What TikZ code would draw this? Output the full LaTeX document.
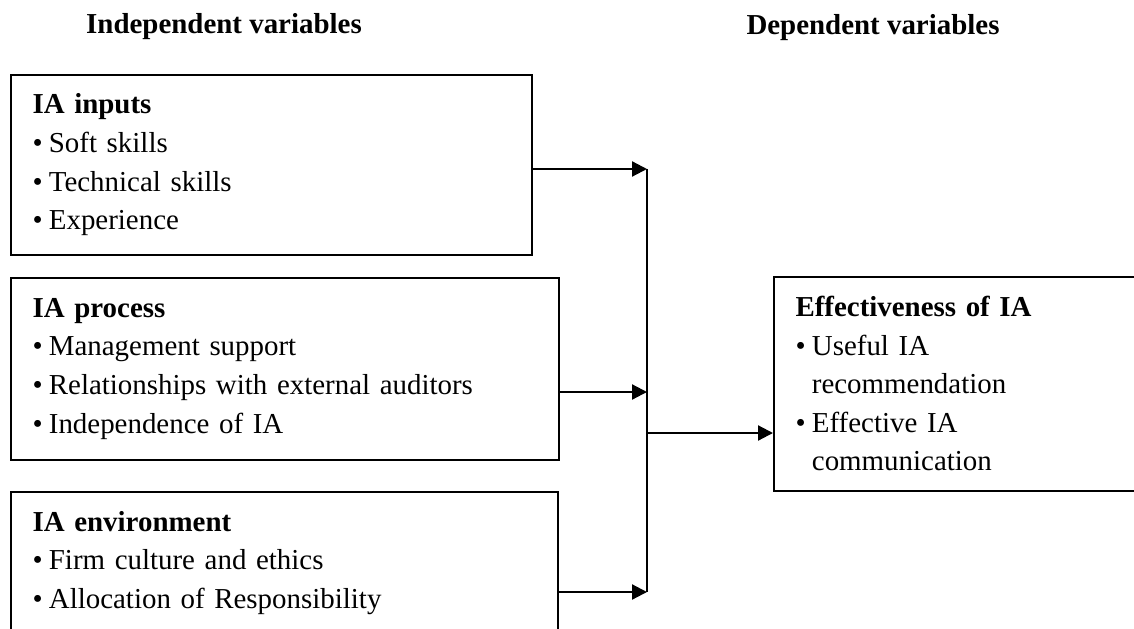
\documentclass[tikz,border=0pt]{standalone}
\usepackage{fontspec}
\setmainfont{Liberation Serif}
\usetikzlibrary{arrows.meta}
\tikzset{
	varbox/.style={draw, line width=0.7pt, anchor=north west, align=left, inner xsep=9pt, inner ysep=0pt, font=\fontsize{12}{16}\selectfont},
	title/.style={anchor=base, font=\bfseries\fontsize{12}{14}\selectfont},
	link/.style={line width=0.9pt, -{Triangle[length=6.2pt, width=6.2pt]}},
}
\newcommand{\bul}[1]{\textbullet\hspace{2.6pt}#1}
\newcommand{\bulgap}{\phantom{\textbullet}\hspace{2.6pt}}

\begin{document}
\begin{tikzpicture}[x=0.415pt, y=-0.415pt]
	\useasboundingbox (0,0) rectangle (1134,628);
	\clip (0,0) rectangle (1134,628);
	\node[title] (indep) at (224,34) {Independent variables};
	\node[title] (dep) at (873,35) {Dependent variables};
	\node[varbox, text width=198.2pt, minimum height=74.7pt] (inputs) at (10,74) {\textbf{IA inputs}\\ \bul{Soft skills}\\ \bul{Technical skills}\\ \bul{Experience}};
	\node[varbox, text width=209.4pt, minimum height=75.5pt] (process) at (10,277) {\textbf{IA process}\\ \bul{Management support}\\ \bul{Relationships with external auditors}\\ \bul{Independence of IA}};
	\node[varbox, text width=209pt, minimum height=58.9pt] (environ) at (10,491) {\textbf{IA environment}\\ \bul{Firm culture and ethics}\\ \bul{Allocation of Responsibility}};
	\node[varbox, text width=148pt, minimum height=88.8pt] (effect) at (773,276) {\textbf{Effectiveness of IA}\\ \bul{Useful IA}\\ \bulgap recommendation\\ \bul{Effective IA}\\ \bulgap communication};
	\coordinate (jin) at (647,169);
	\coordinate (jproc) at (647,392);
	\coordinate (jenv) at (647,592);
	\coordinate (jout) at (647,433);
	\draw[link] (inputs.east |- jin) -- (jin);
	\draw[link] (process.east |- jproc) -- (jproc);
	\draw[link] (environ.east |- jenv) -- (jenv);
	\draw[line width=0.9pt] (jin) -- (jenv);
	\draw[link] (jout) -- (effect.west |- jout);
\end{tikzpicture}
\end{document}
